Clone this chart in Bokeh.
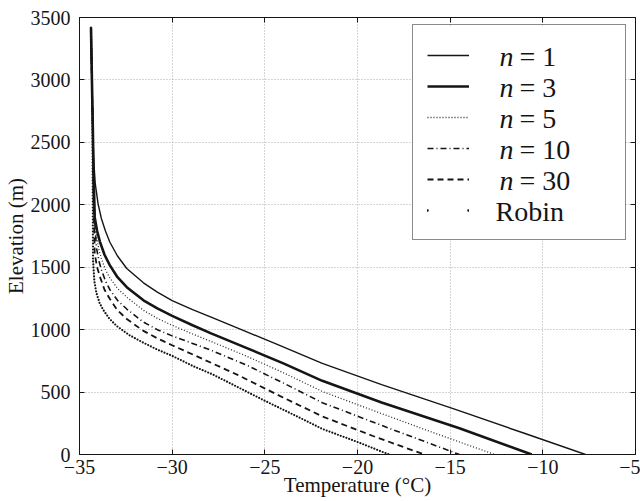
from bokeh.plotting import figure
from bokeh.models import Range1d, FixedTicker, LinearAxis, Legend, LegendItem, Label, BoxAnnotation
from bokeh.core.properties import value
from bokeh.embed import file_html
from bokeh.resources import INLINE

# ---------------- data ----------------
series_names = ["n = 1", "n = 3", "n = 5", "n = 10", "n = 30", "Robin"]

t_n1 = [-34.38, -34.33, -34.28, -34.23, -34.15, -34.0, -33.82, -33.6, -33.36, -32.95, -32.45, -31.55,
        -30.8, -30.0, -28.9, -27.9, -26.1, -24.3, -21.9, -18.7, -14.8, -11.0, -7.7]
z_n1 = [3420, 3000, 2600, 2350, 2170, 2010, 1890, 1790, 1700, 1590, 1490, 1375,
        1300, 1232, 1160, 1100, 990, 880, 730, 560, 365, 170, 0]

t_n3 = [-34.38, -34.33, -34.28, -34.24, -34.18, -34.05, -33.9, -33.65, -33.36, -32.95, -32.45, -31.55,
        -30.8, -30.0, -28.9, -27.9, -26.1, -24.0, -21.9, -18.7, -14.5, -10.6]
z_n3 = [3420, 3000, 2600, 2250, 1900, 1790, 1705, 1600, 1515, 1420, 1340, 1235,
        1170, 1110, 1035, 970, 860, 730, 590, 417, 210, 0]

t_n5 = [-34.38, -34.33, -34.28, -34.24, -34.18, -34.09, -33.95, -33.82, -33.6, -33.36, -32.95, -32.45,
        -31.55, -30.8, -30.0, -28.9, -27.9, -26.1, -24.0, -21.9, -19.2, -16.0, -12.6]
z_n5 = [3420, 3000, 2600, 2250, 1950, 1750, 1640, 1570, 1480, 1415, 1330, 1260,
        1155, 1090, 1035, 965, 905, 795, 655, 505, 355, 180, 0]

t_n10 = [-34.38, -34.33, -34.28, -34.24, -34.18, -34.09, -33.95, -33.82, -33.6, -33.36, -32.95, -32.45,
         -31.55, -30.8, -30.0, -28.9, -27.9, -25.9, -23.9, -21.9, -18.2, -14.5]
z_n10 = [3420, 3000, 2600, 2200, 1870, 1660, 1550, 1480, 1390, 1320, 1235, 1165,
         1060, 1000, 950, 890, 835, 710, 565, 415, 205, 0]

t_n30 = [-34.38, -34.33, -34.28, -34.25, -34.18, -34.05, -33.9, -33.65, -33.36, -32.95, -32.45, -31.55,
         -30.8, -30.0, -28.8, -26.5, -24.2, -21.9, -19.2, -16.4]
z_n30 = [3420, 3000, 2600, 2100, 1610, 1500, 1425, 1320, 1245, 1155, 1085, 990,
         930, 875, 795, 640, 470, 305, 150, 0]

t_robin = [-34.38, -34.33, -34.3, -34.27, -34.2, -34.09, -33.92, -33.73, -33.4, -33.0, -32.3, -31.55,
           -30.8, -30.0, -28.9, -27.8, -25.0, -23.4, -21.9, -20.0, -18.3]
z_robin = [3420, 3000, 2600, 1560, 1390, 1295, 1215, 1160, 1090, 1030, 955, 895,
           840, 790, 710, 640, 430, 315, 205, 100, 0]

x_tick_values = [-35, -30, -25, -20, -15, -10, -5]
x_tick_labels = ["\u221235", "\u221230", "\u221225", "\u221220", "\u221215", "\u221210", "\u22125"]
y_tick_values = [0, 500, 1000, 1500, 2000, 2500, 3000, 3500]
y_tick_labels = ["0", "500", "1000", "1500", "2000", "2500", "3000", "3500"]

x_label = "Temperature (\u00b0C)"
y_label = "Elevation (m)"

# ---------------- styling ----------------
FONT = "Liberation Serif"
INK = "#151515"

p = figure(width=640, height=501, x_range=Range1d(-35, -5), y_range=Range1d(0, 3500),
           output_backend="svg", toolbar_location=None,
           min_border_left=77, min_border_right=5, min_border_top=17, min_border_bottom=47,
           background_fill_color="white", border_fill_color="white")
p.outline_line_color = INK
p.outline_line_width = 1

for ax in (p.xaxis[0], p.yaxis[0]):
    ax.major_tick_in = 5
    ax.major_tick_out = 0
    ax.minor_tick_line_color = None
    ax.axis_line_color = INK
    ax.major_tick_line_color = INK
    ax.major_label_text_font = FONT
    ax.major_label_text_font_size = "20px"
    ax.major_label_text_color = INK
    ax.axis_label_text_font = FONT
    ax.axis_label_text_font_size = "21px"
    ax.axis_label_text_font_style = "normal"
    ax.axis_label_text_color = INK

p.xaxis[0].ticker = FixedTicker(ticks=x_tick_values)
p.xaxis[0].major_label_overrides = dict(zip(x_tick_values, x_tick_labels))
p.xaxis[0].major_label_standoff = 5
p.xaxis[0].axis_label = x_label
p.xaxis[0].axis_label_standoff = -4

p.yaxis[0].ticker = FixedTicker(ticks=y_tick_values)
p.yaxis[0].major_label_overrides = dict(zip(y_tick_values, y_tick_labels))
p.yaxis[0].major_label_standoff = 9
p.yaxis[0].axis_label = y_label
p.yaxis[0].axis_label_standoff = 0

p.xgrid.ticker = FixedTicker(ticks=x_tick_values)
p.ygrid.ticker = FixedTicker(ticks=y_tick_values)
for g in (p.xgrid[0], p.ygrid[0]):
    g.grid_line_color = "#9a9a9a"
    g.grid_line_dash = "1 2"
    g.grid_line_width = 1
    g.grid_line_alpha = 0.8

# mirrored inward ticks on the top and right (box style), no labels drawn
top_axis = LinearAxis(ticker=FixedTicker(ticks=x_tick_values), major_tick_in=5, major_tick_out=0,
                      minor_tick_line_color=None, axis_line_color=None, major_tick_line_color=INK,
                      major_label_text_font_size="1px", major_label_text_color=None,
                      major_label_standoff=0)
right_axis = LinearAxis(ticker=FixedTicker(ticks=y_tick_values), major_tick_in=5, major_tick_out=0,
                        minor_tick_line_color=None, axis_line_color=None, major_tick_line_color=INK,
                        major_label_text_font_size="1px", major_label_text_color=None,
                        major_label_standoff=0)
p.add_layout(top_axis, "above")
p.add_layout(right_axis, "right")

# ---------------- legend box geometry (frame pixels) ----------------
PAD, GLYPH_W, STANDOFF, LABEL_W, ROW_H = 14, 42, 31, 111, 31
LEG_X, LEG_Y = 333, 214   # bottom-left of the legend box
leg_h = 2 * PAD + ROW_H * len(series_names)
leg_w = 2 * PAD + GLYPH_W + STANDOFF + LABEL_W

# white backing that hides the grid behind the key
p.add_layout(BoxAnnotation(left=LEG_X, right=LEG_X + leg_w, bottom=LEG_Y, top=LEG_Y + leg_h,
                           left_units="screen", right_units="screen",
                           bottom_units="screen", top_units="screen",
                           fill_color="white", fill_alpha=1.0, line_color=None, level="underlay"))

# ---------------- curves ----------------
r_n1 = p.line(t_n1, z_n1, line_color=INK, line_width=1.4)
r_n3 = p.line(t_n3, z_n3, line_color=INK, line_width=2.6)
r_n5 = p.line(t_n5, z_n5, line_color="#2a2a2a", line_width=1.3, line_dash="1 2")
r_n10 = p.line(t_n10, z_n10, line_color=INK, line_width=1.6, line_dash="6 3 1 3")
r_n30 = p.line(t_n30, z_n30, line_color=INK, line_width=1.8, line_dash="6 4")
r_robin = p.line(t_robin, z_robin, line_color=INK, line_width=2.2, line_dash="0 3", line_cap="round")
# hidden twin of the Robin curve, only used for its two-dot key in the legend
r_robin_key = p.line(t_robin, z_robin, line_color=INK, line_width=2.6, line_dash="0 41",
                     line_cap="round", visible=False)

renderers = [r_n1, r_n3, r_n5, r_n10, r_n30, r_robin_key]

# ---------------- legend ----------------
legend = Legend(items=[LegendItem(label=value(n), renderers=[r]) for n, r in zip(series_names, renderers)],
                location=(LEG_X, LEG_Y), padding=PAD, glyph_width=GLYPH_W, glyph_height=20,
                label_standoff=STANDOFF, label_width=LABEL_W, label_height=ROW_H, spacing=0,
                label_text_font_size="8px", label_text_color=None, margin=0,
                inactive_fill_alpha=0.0,
                border_line_color=INK, border_line_width=1,
                background_fill_alpha=0.0)
p.add_layout(legend)

text_x = LEG_X + PAD + GLYPH_W + STANDOFF
for i, name in enumerate(series_names):
    cy = LEG_Y + leg_h - PAD - ROW_H / 2 - i * ROW_H
    if name.startswith("n "):
        var, rest = name.split(" ", 1)
        p.add_layout(Label(x=text_x, y=cy, x_units="screen", y_units="screen", text=var,
                           text_font=FONT, text_font_style="italic", text_font_size="28px",
                           text_color=INK, text_baseline="middle", text_align="left",
                           level="overlay"))
        p.add_layout(Label(x=text_x + 20, y=cy, x_units="screen", y_units="screen", text=rest,
                           text_font=FONT, text_font_size="28px",
                           text_color=INK, text_baseline="middle", text_align="left",
                           level="overlay"))
    else:
        p.add_layout(Label(x=text_x - 4, y=cy, x_units="screen", y_units="screen", text=name,
                           text_font=FONT, text_font_size="28px",
                           text_color=INK, text_baseline="middle", text_align="left",
                           level="overlay"))

open("out.html", "w").write(file_html(p, INLINE))
